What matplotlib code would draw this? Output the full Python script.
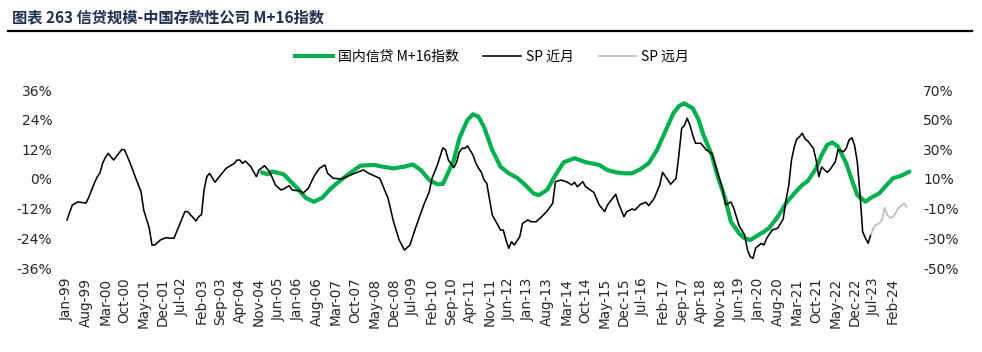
import matplotlib
matplotlib.use("Agg")
import matplotlib.pyplot as plt
import matplotlib.dates as mdates
from matplotlib.lines import Line2D
import pandas as pd

# ---------------- data ----------------
title = "图表 263 信贷规模-中国存款性公司 M+16指数"
label_green = "国内信贷 M+16指数"
label_black = "SP 近月"
label_gray = "SP 远月"

green_dates = ["2004-12", "2005-02", "2005-04", "2005-08", "2005-10", "2006-01", "2006-04", "2006-07",
               "2006-10", "2007-01", "2007-04", "2007-08", "2007-12", "2008-05", "2008-08", "2008-12",
               "2009-04", "2009-07", "2009-10", "2010-01", "2010-04", "2010-06", "2010-07", "2010-10",
               "2010-12", "2011-03", "2011-05", "2011-07", "2011-09", "2011-12", "2012-03", "2012-06",
               "2012-09", "2012-12", "2013-03", "2013-05", "2013-08", "2013-11", "2014-02", "2014-06",
               "2014-10", "2015-03", "2015-06", "2015-09", "2015-12", "2016-03", "2016-06", "2016-09",
               "2016-12", "2017-03", "2017-06", "2017-08", "2017-10", "2018-01", "2018-03", "2018-05",
               "2018-08", "2018-10", "2019-01", "2019-03", "2019-06", "2019-08", "2019-10", "2019-12",
               "2020-03", "2020-05", "2020-08", "2020-11", "2021-02", "2021-05", "2021-07", "2021-10",
               "2021-12", "2022-02", "2022-04", "2022-06", "2022-09", "2022-11", "2023-01", "2023-04",
               "2023-06", "2023-09", "2023-12", "2024-02", "2024-05", "2024-08"]
green_vals = [2.7, 1.9, 3.0, 1.9, -0.4, -3.8, -7.6, -9.2,
              -7.6, -4.0, -1.2, 2.3, 5.4, 5.7, 5.0, 4.3,
              5.0, 5.9, 3.6, -0.4, -2.1, -2.0, 0.3, 7.7,
              16.5, 23.9, 26.2, 25.2, 21.0, 11.7, 5.0, 2.3,
              0.5, -2.4, -5.8, -6.5, -4.4, 1.6, 6.8, 8.4,
              6.8, 5.7, 3.6, 2.7, 2.3, 2.3, 4.0, 6.4,
              11.7, 19.1, 26.6, 29.5, 30.6, 28.6, 24.6, 17.8,
              9.7, 1.6, -8.5, -17.3, -22.0, -24.0, -24.7, -23.3,
              -21.3, -19.7, -15.3, -9.8, -5.8, -2.4, -0.8, 4.3,
              9.7, 13.8, 14.8, 13.1, 6.3, -0.4, -6.5, -9.2,
              -7.6, -5.8, -2.1, 0.3, 1.3, 3.0]

black_dates = ["1999-01", "1999-03", "1999-05", "1999-08", "1999-09", "1999-11", "1999-12", "2000-01",
               "2000-02", "2000-03", "2000-04", "2000-06", "2000-09", "2000-10", "2000-12", "2001-02",
               "2001-04", "2001-05", "2001-07", "2001-08", "2001-09", "2001-11", "2002-01", "2002-04",
               "2002-06", "2002-08", "2002-09", "2002-12", "2003-01", "2003-02", "2003-03", "2003-04",
               "2003-05", "2003-07", "2003-09", "2003-11", "2004-02", "2004-03", "2004-04", "2004-05",
               "2004-06", "2004-08", "2004-10", "2004-11", "2005-01", "2005-03", "2005-05", "2005-07",
               "2005-08", "2005-10", "2005-11", "2006-02", "2006-03", "2006-05", "2006-07", "2006-09",
               "2006-11", "2006-12", "2007-02", "2007-05", "2007-07", "2007-09", "2008-01", "2008-03",
               "2008-07", "2008-08", "2008-10", "2008-12", "2009-02", "2009-04", "2009-06", "2009-08",
               "2009-11", "2010-01", "2010-02", "2010-04", "2010-06", "2010-07", "2010-08", "2010-10",
               "2010-11", "2010-12", "2011-01", "2011-02", "2011-03", "2011-05", "2011-06", "2011-07",
               "2011-08", "2011-09", "2011-10", "2011-12", "2012-02", "2012-03", "2012-04", "2012-05",
               "2012-06", "2012-07", "2012-08", "2012-10", "2012-11", "2013-01", "2013-02", "2013-04",
               "2013-06", "2013-08", "2013-10", "2013-11", "2014-01", "2014-03", "2014-05", "2014-06",
               "2014-07", "2014-09", "2014-10", "2015-01", "2015-03", "2015-05", "2015-06", "2015-09",
               "2015-10", "2015-12", "2016-01", "2016-03", "2016-04", "2016-06", "2016-08", "2016-09",
               "2016-11", "2017-01", "2017-02", "2017-04", "2017-05", "2017-07", "2017-08", "2017-09",
               "2017-10", "2017-11", "2017-12", "2018-01", "2018-02", "2018-04", "2018-06", "2018-08",
               "2018-10", "2018-12", "2019-01", "2019-03", "2019-04", "2019-06", "2019-08", "2019-09",
               "2019-10", "2019-11", "2019-12", "2020-02", "2020-03", "2020-04", "2020-06", "2020-08",
               "2020-10", "2020-11", "2020-12", "2021-01", "2021-02", "2021-03", "2021-04", "2021-05",
               "2021-06", "2021-07", "2021-09", "2021-10", "2021-11", "2021-12", "2022-02", "2022-03",
               "2022-05", "2022-06", "2022-08", "2022-09", "2022-10", "2022-11", "2022-12", "2023-01",
               "2023-02", "2023-03", "2023-04", "2023-05", "2023-06"]
black_vals = [-17.6, -7.5, -5.5, -6.2, -2.1, 7.3, 11.3, 14.0,
              20.8, 24.4, 27.3, 22.8, 30.0, 29.6, 20.8, 10.7,
              1.4, -10.9, -23.0, -34.5, -34.5, -31.1, -29.6, -30.0,
              -21.0, -12.0, -12.0, -18.3, -15.4, -14.0, 2.6, 11.6,
              13.8, 7.8, 12.7, 17.2, 20.6, 22.8, 22.8, 20.6,
              22.1, 18.3, 11.6, 16.1, 19.0, 14.5, 6.0, 2.6,
              3.3, 5.5, 2.6, 1.9, 0.4, 3.7, 11.6, 17.2,
              19.4, 13.8, 10.5, 10.0, 11.6, 13.2, 16.1, 13.8,
              10.5, 6.0, -3.0, -18.8, -31.1, -37.9, -34.5, -23.2,
              -7.5, 1.4, 10.5, 19.4, 31.1, 29.6, 22.8, 17.6,
              21.5, 28.2, 30.7, 30.7, 32.3, 26.2, 20.8, 17.4,
              14.7, 9.3, 7.1, -14.3, -21.0, -24.4, -24.4, -31.1,
              -36.7, -32.3, -34.5, -28.9, -19.9, -17.6, -18.8, -18.8,
              -15.4, -11.6, -6.4, 8.2, 9.3, 8.2, 6.0, 7.8,
              4.8, 8.2, 4.8, 1.0, -7.5, -12.0, -7.5, -0.3,
              -6.4, -15.4, -12.0, -10.2, -10.9, -7.1, -5.7, -8.0,
              -3.0, 6.0, 14.5, 9.3, 6.4, 10.5, 26.2, 44.2,
              46.0, 51.0, 46.4, 39.7, 34.1, 34.1, 29.6, 27.3,
              14.9, 2.6, -7.5, -5.5, -9.6, -21.7, -27.8, -37.9,
              -42.4, -43.5, -36.5, -33.4, -34.5, -30.0, -24.4, -23.2,
              -17.0, -4.2, 5.3, 22.8, 31.6, 37.0, 38.5, 40.8,
              37.0, 35.6, 30.7, 22.8, 11.6, 18.1, 14.5, 16.1,
              21.5, 29.6, 28.4, 30.7, 36.3, 37.8, 32.9, 21.5,
              -0.8, -25.5, -29.8, -33.4, -27.3]

gray_dates = ["2023-06", "2023-07", "2023-08", "2023-09", "2023-10", "2023-11", "2023-12", "2024-01",
              "2024-02", "2024-03", "2024-04", "2024-06", "2024-07"]
gray_vals = [-27.3, -22.7, -20.7, -20.0, -17.6, -9.4, -14.3, -16.3,
             -15.4, -12.9, -9.6, -6.4, -8.7]

left_ticks = [-36, -24, -12, 0, 12, 24, 36]
right_ticks = [-50, -30, -10, 10, 30, 50, 70]
tick_start, tick_end, tick_step_months = "1999-01", "2024-02", 7

# ---------------- figure ----------------
W, H = 982, 352
fig = plt.figure(figsize=(W / 100, H / 100), dpi=100)
fig.patch.set_facecolor("white")

cjk = ["Noto Sans CJK SC", "DejaVu Sans"]

# Title and rule
fig.text(12 / W, 1 - 17 / H, title, family=cjk, fontsize=11, fontweight="bold",
         color="#1F2F4F", va="center", ha="left")
fig.add_artist(Line2D([8 / W, 972 / W], [1 - 31 / H, 1 - 31 / H], color="black", lw=1.6))

ax = fig.add_axes([62 / W, 84 / H, (915 - 62) / W, 178 / H])
ax2 = ax.twinx()

gd = pd.to_datetime(green_dates)
bd = pd.to_datetime(black_dates)
yd = pd.to_datetime(gray_dates)

ax.plot(gd, green_vals, color="#00B050", lw=3.0, solid_capstyle="round", zorder=2)
ax2.plot(bd, black_vals, color="black", lw=1.15, zorder=3)
ax2.plot(yd, gray_vals, color="#BFBFBF", lw=1.3, zorder=3)

ax.set_ylim(-36, 36)
ax2.set_ylim(-50, 70)
ax.set_yticks(left_ticks)
ax.set_yticklabels([f"{v}%" for v in left_ticks])
ax2.set_yticks(right_ticks)
ax2.set_yticklabels([f"{v}%" for v in right_ticks])

t0 = pd.Timestamp("1999-01-01")
d0 = mdates.date2num(t0)
month_days = 30.44
ax.set_xlim(d0 - 1.82 * month_days, d0 + 309.0 * month_days)

xt = pd.date_range(tick_start, tick_end, freq=f"{tick_step_months}MS")
ax.set_xticks(mdates.date2num(xt))
ax.set_xticklabels([d.strftime("%b-%y") for d in xt], rotation=90)

for a in (ax, ax2):
    for s in a.spines.values():
        s.set_visible(False)
    a.tick_params(length=0, labelsize=10, colors="#262626")
ax.tick_params(axis="y", pad=7)
ax2.tick_params(axis="y", pad=6)
ax.tick_params(axis="x", pad=7, labelsize=9.8)

handles = [Line2D([], [], color="#00B050", lw=3.0),
           Line2D([], [], color="black", lw=1.15),
           Line2D([], [], color="#BFBFBF", lw=1.3)]
fig.legend(handles, [label_green, label_black, label_gray], loc="center",
           bbox_to_anchor=(492 / W, 1 - 57 / H), ncol=3, frameon=False,
           prop={"family": cjk, "size": 10}, handlelength=2.7, handletextpad=0.35,
           columnspacing=1.8)

fig.savefig("out.png", dpi=100)
